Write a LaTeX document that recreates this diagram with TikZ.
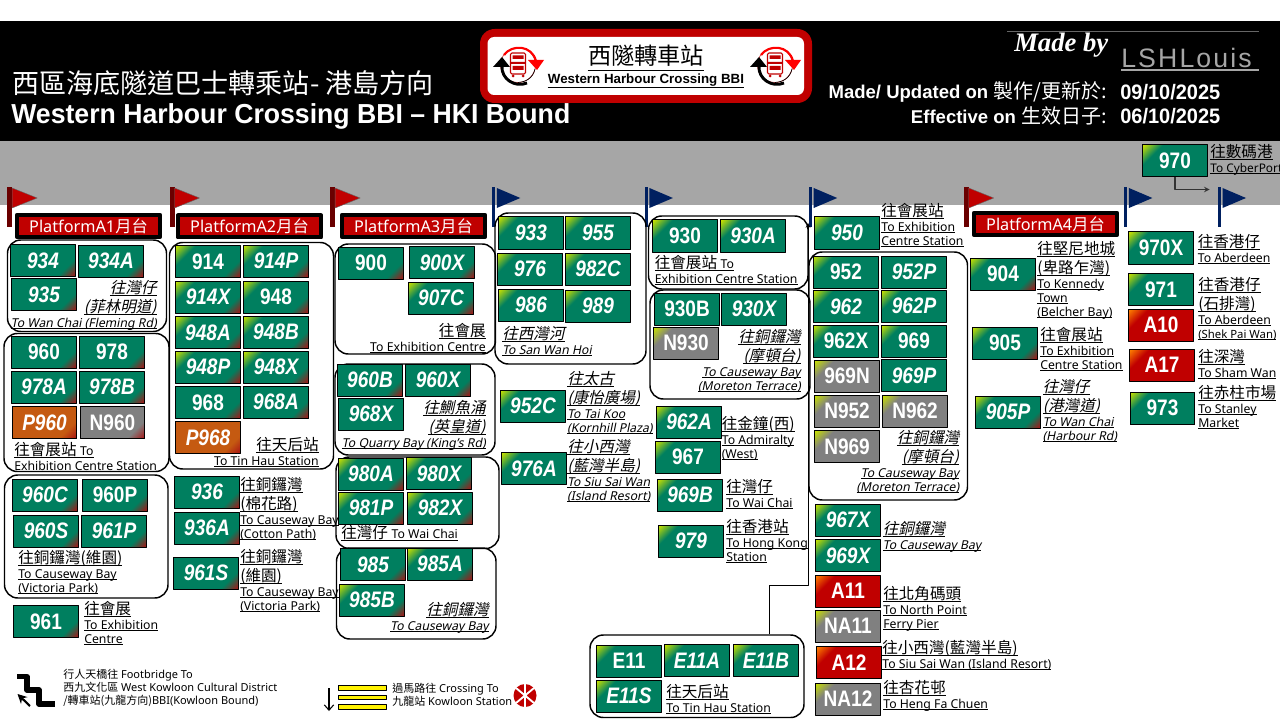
\documentclass[tikz,border=0pt]{standalone}
\usepackage{fontspec}
\usetikzlibrary{fit,arrows.meta}
\setmainfont[AutoFakeSlant=0.2]{Noto Sans}
\setsansfont{Liberation Sans}
\newfontfamily\cjk[AutoFakeSlant=0.22]{Noto Sans CJK TC}
\newfontfamily\madefont{Liberation Serif}
\newfontfamily\authorfont[LetterSpace=8]{Liberation Sans}
\newfontfamily\tilefont[FakeStretch=.85]{Liberation Sans}
\newfontfamily\titlefont[FakeStretch=.97]{Liberation Sans}
\newfontfamily\datefont[FakeStretch=.955]{Liberation Sans}
\definecolor{tgreen}{HTML}{007F5F}
\definecolor{tyellow}{HTML}{C8E000}
\definecolor{tred}{HTML}{A81414}
\definecolor{tgrey}{HTML}{808080}
\definecolor{torange}{HTML}{C55A11}
\definecolor{ptred}{HTML}{C00000}
\definecolor{navy}{HTML}{002060}
\definecolor{band}{HTML}{A6A6A6}
% corner to corner colours of the route tiles
\newcommand{\tileshade}[4]{\pgfdeclarehorizontalshading{#1}{100bp}{color(0bp)=(#2); color(15bp)=(#2); color(29bp)=(#3); color(72bp)=(#3); color(85bp)=(#4); color(100bp)=(#4)}}
\tileshade{tilegr}{tgreen}{tgreen}{tred}
\tileshade{tilegy}{tyellow}{tgreen}{tgreen}
\tileshade{tilegyr}{tyellow}{tgreen}{tred}
\tileshade{tileg}{tgreen}{tgreen}{tgreen}
\tileshade{tileor}{torange}{torange}{tred}
\tileshade{tilenr}{tgrey}{tgrey}{tred}
\tileshade{tileny}{tyellow}{tgrey}{tgrey}
\tileshade{tilery}{orange}{ptred}{ptred}
% one underlined line of a destination, Chinese or English
\newcommand{\zl}[1]{\rule[-3pt]{0pt}{14.25pt}\sbox0{\fontsize{11.7}{0}\selectfont\cjk #1}\rlap{\rule[-1.7pt]{\wd0}{.65pt}}\usebox0}
\newcommand{\el}[1]{\rule[-2.4pt]{0pt}{10.5pt}\sbox0{#1}\rlap{\rule[-1.7pt]{\wd0}{.65pt}}\usebox0}
\newcommand{\en}[1]{{\fontsize{9.2}{0}\selectfont\rmfamily #1}}
\newcommand{\labfont}{\fontsize{9.2}{0}\selectfont\lineskip=0pt\lineskiplimit=0pt}
\tikzset{
  tile/.style={shade,draw=black,line width=.75pt,minimum width=48.5pt,minimum height=24pt,inner sep=0pt,
    text=white,shading angle=-45,font=\fontsize{16.8}{16}\selectfont\tilefont\bfseries},
  tileit/.style={font=\fontsize{16.8}{16}\selectfont\tilefont\bfseries\itshape},
  gr/.style={tile,shading=tilegr}, gy/.style={tile,shading=tilegy}, gyr/.style={tile,shading=tilegyr},
  g0/.style={tile,shading=tileg},
  orr/.style={tile,shading=tileor}, nr/.style={tile,shading=tilenr},
  ny/.style={tile,shading=tileny}, ry/.style={tile,shading=tilery},
  grp/.style={draw=black,line width=1.1pt,rounded corners=10pt,inner sep=0pt},
  lab/.style={anchor=north west,inner sep=0pt,align=left,font=\labfont},
  labit/.style={lab,font=\labfont\itshape},
  labr/.style={anchor=north east,inner sep=0pt,align=right,font=\labfont},
  labrit/.style={labr,font=\labfont\itshape},
  plat/.style={draw=black,line width=3pt,fill=ptred,text=white,minimum width=107.5pt,minimum height=16.5pt,
    inner sep=0pt,font=\fontsize{12.2}{12}\selectfont},
  legend/.style={anchor=north west,inner sep=0pt,align=left,font=\fontsize{8.25}{9.75}\selectfont},
  redflag/.pic={
    \fill[ptred!55!black] (-2.5,0) rectangle (2.5,40);
    \fill[ptred,draw=black!60,line width=.3pt] (2.5,1)--(27.5,11)--(2.5,21)--cycle;},
  blueflag/.pic={
    \fill[navy] (-1.5,0) rectangle (1.5,40);
    \fill[navy] (3,1)--(26.5,11)--(3,21)--cycle;},
  bbi/.pic={
    \draw[ptred!80,line width=.5pt] (0,0) circle (17.5);
    \draw[black,line width=.5pt] (17,4) .. controls (15,13) and (8,17) .. (0,17.5);
    \draw[red,line width=1.6pt] (-14,-10) .. controls (-6,-21) and (14,-20) .. (18,-4);
    \fill[red] (10,-5)--(26,-5)--(19,5)--cycle;
    \draw[black,line width=2.2pt] (9,18) .. controls (-3,23) and (-17,14) .. (-16,1);
    \fill[black] (-25,2)--(-8,2)--(-16,-8)--cycle;
    \draw[ptred,fill=white,line width=.8pt,rounded corners=1pt] (-7.5,-12) rectangle (7.5,9);
    \fill[ptred] (-7.5,-3) rectangle (7.5,-1) (-5.5,-9.5) rectangle (5.5,-6) (-5.5,1) rectangle (5.5,5);
    \fill[ptred] (-5,11) circle (1.5) (5,11) circle (1.5);}
}
\begin{document}
\begin{tikzpicture}[x=.75pt,y=-.75pt,>=stealth,line join=round]
\useasboundingbox (0,0) rectangle (1280,720);
\fill[black] (0,21) rectangle (1280,141);
\fill[band] (0,141) rectangle (1280,205);
% header
\node[anchor=west,inner sep=0pt,text=white,font=\fontsize{20.3}{21}\selectfont\cjk] (titleZh) at (12,83) {西區海底隧道巴士轉乘站- 港島方向};
\node[anchor=west,inner sep=0pt,text=white,font=\fontsize{20.6}{22}\selectfont\titlefont\bfseries] (titleEn) at (11,116) {Western Harbour Crossing BBI – HKI Bound};
\fill[ptred,rounded corners=11pt] (480,29) rectangle (812,103);
\fill[white,rounded corners=5pt] (487.5,37) rectangle (804,95);
\node[inner sep=0pt,font=\fontsize{17.4}{18}\selectfont\cjk] (logoZh) at (646,56) {西隧轉車站};
\node[inner sep=0pt,font=\fontsize{10}{10}\selectfont\sffamily\bfseries] (logoEn) at (646,80) {Western Harbour Crossing BBI};
\draw[line width=.7pt] (logoZh.south west |- 0,70) -- (logoZh.south east |- 0,70);
\draw[line width=.7pt] (logoEn.west |- 0,87) -- (logoEn.east |- 0,87);
\pic at (518,65) {bbi};
\pic at (775,65) {bbi};
\draw[black!60,line width=.5pt] (1007,31) -- (1259,31);
\node[anchor=west,inner sep=0pt,text=white,font=\fontsize{20}{20}\selectfont\madefont\bfseries\itshape] (madeBy) at (1014,45) {Made by};
\node[anchor=west,inner sep=0pt,text=black!35,font=\fontsize{20}{20}\selectfont\authorfont] (author) at (1121,58) {LSHLouis};
\draw[black!35,line width=1.5pt] (author.west |- 0,70) -- (1259,70);
\node[anchor=east,inner sep=0pt,text=white,font=\fontsize{13.9}{14}\selectfont\sffamily\bfseries] (madeLab) at (1107,92) {Made/ Updated on {\fontsize{15}{14}\selectfont\cjk\mdseries 製作/更新於:}};
\node[anchor=east,inner sep=0pt,text=white,font=\fontsize{13.9}{14}\selectfont\sffamily\bfseries] (effLab) at (1107,116) {Effective on {\fontsize{15}{14}\selectfont\cjk\mdseries 生效日子:}};
\node[anchor=west,inner sep=0pt,text=white,font=\fontsize{15.7}{16}\selectfont\datefont\bfseries] (madeDate) at (1120,92) {09/10/2025};
\node[anchor=west,inner sep=0pt,text=white,font=\fontsize{15.7}{16}\selectfont\datefont\bfseries] (effDate) at (1120,116) {06/10/2025};
% flags
\foreach \x in {9.7,172,332.6,966.2} \pic at (\x,187) {redflag};
\foreach \x in {493.8,646.4,810.7,1125.9,1219.5} \pic at (\x,187) {blueflag};
% platforms
\node[plat] (platA1) at (88.5,226) {Platform{}A1{\cjk 月台}};
\node[plat] (platA2) at (249.5,226.5) {Platform{}A2{\cjk 月台}};
\node[plat] (platA3) at (413.5,226) {Platform{}A3{\cjk 月台}};
\node[plat] (platA4) at (1045.5,224) {Platform{}A4{\cjk 月台}};
% groups
\foreach \n/\xa/\ya/\xb/\yb in {A/7.5/240/166.5/331.5,B/4/333.5/169/471.5,C/169.5/242.5/333.5/469,D/4.5/475/168/598,
  E/335/244/495.5/354,F/335/364/495/455,G/495/213/646/364,H/336/457/499/548.5,I/336.5/548/496/639,
  J/590/635/804/717.5,K/648.5/216/808/289,L/650/290/810/399,M/809/252/967.5/500}
  \node[grp,fit={(\xa,\ya)(\xb,\yb)}] (b\n) {};
% routes
\foreach \n/\x/\y/\s in {960/44/352/gr,978/112/352/gr,N960/112.5/422.5/nr,914/208/261.7/gyr,948/276/297/gyr,968/208/402.5/gr,
  960P/115/495/gr,961/46/621.5/gr,900/371/263/gr,967/688/457/gy,930/685/236/gy,930B/687/309/g0,N930/686/343/ny,
  952/846/272/gy,962X/846/341/gy,969/914/341/gy,969N/847/376/ny,N952/847/411/ny,N962/915/411/ny,N969/847/446.5/ny,
  A11/848/591/ry,NA11/848/626/ny,A12/849/662.5/ry,NA12/848/699/ny,904/1003/274/gyr,905/1005/343/gyr,
  970X/1161/248/gy,971/1161/289.5/gy,A10/1161/325/ry,A17/1162/365/ry,973/1162.5/408/gy,970/1175/161/gy,E11/629/661/gy}
  \node[\s] (r\n) at (\x,\y) {\n};
\foreach \n/\x/\y/\s in {934/43/260.5/gr,934A/111/261/gr,935/44/294.5/gr,978A/44/387/gr,978B/112/387/gr,P960/44.5/422.5/orr,
  914P/276/261/gyr,914X/208/297/gyr,948A/208/332.5/gyr,948B/276/332/gyr,948P/208/367/gyr,948X/276/367/gyr,968A/276/402/gr,
  P968/208/437.5/orr,960C/45/495/gr,960S/46/531/gr,961P/114/531/gr,936/207/492/gr,936A/207/528/gr,961S/206/573/gr,
  900X/442/262.5/gr,907C/441/298/gyr,960B/370/380/gr,960X/438/380/gr,968X/371/414/g0,933/531/233/gy,955/598/233/gy,
  976/530/269/gy,982C/598/269/gy,986/531/305/gy,989/598/306/gy,980A/371/474/gyr,980X/439/473.5/gyr,981P/371/508/gyr,
  982X/440/508/gyr,985/373/564.5/gr,985A/440/564/gyr,985B/372/600/gyr,952C/533/406/gy,976A/534/468.5/gy,930A/753/236/gy,
  930X/754/309/g0,962A/689/422/gy,969B/690/495/gy,979/691/541/gy,950/847/233/gy,952P/914/272/g0,962/846/306.5/gy,
  962P/914/306/gy,969P/914/375.5/g0,967X/848/520/gy,969X/848/555.5/gy,E11A/697/660.5/gy,E11B/766/660.5/gy,
  E11S/629/696/gy,905P/1008/412/gyr}
  \node[\s,tileit] (r\n) at (\x,\y) {\n};
% destinations
\node[labrit] (tWanChaiFl) at (157,278) {\zl{往灣仔}\\\zl{(菲林明道)}\\\el{To Wan Chai (Fleming Rd)}};
\node[lab] (tExhibA) at (14,440) {\zl{往會展站 \en{To}}\\\el{Exhibition Centre Station}};
\node[labr] (tTinHauA) at (319,435) {\zl{往天后站}\\\el{To Tin Hau Station}};
\node[lab] (tVicA) at (18,548) {\zl{往銅鑼灣(維園)}\\\el{To Causeway Bay}\\\el{(Victoria Park)}};
\node[lab] (t961) at (84,599) {\zl{往會展}\\\el{To Exhibition}\\\el{Centre}};
\node[lab] (t936) at (240,475) {\zl{往銅鑼灣}\\\zl{(棉花路)}\\\el{To Causeway Bay}\\\el{(Cotton Path)}};
\node[lab] (t961S) at (240,547) {\zl{往銅鑼灣}\\\zl{(維園)}\\\el{To Causeway Bay}\\\el{(Victoria Park)}};
\node[labr] (tExhibE) at (486,321) {\zl{往會展}\\\el{To Exhibition Centre}};
\node[labrit] (tQuarry) at (486,398) {\zl{往鰂魚涌}\\\zl{(英皇道)}\\\el{To Quarry Bay (King's Rd)}};
\node[labit] (tSanWan) at (502,324) {\zl{往西灣河}\\\el{To San Wan Hoi}};
\node[labit] (t952C) at (567,369) {\zl{往太古}\\\zl{(康怡廣場)}\\\el{To Tai Koo}\\\el{(Kornhill Plaza)}};
\node[labit] (t976A) at (567,437) {\zl{往小西灣}\\\zl{(藍灣半島)}\\\el{To Siu Sai Wan}\\\el{(Island Resort)}};
\node[lab] (tWanChaiH) at (341,523) {\zl{往灣仔 \en{To Wai Chai}}};
\node[labrit] (tCausewayI) at (489,600) {\zl{往銅鑼灣}\\\el{To Causeway Bay}};
\node[lab] (tTinHauJ) at (666,682) {\zl{往天后站}\\\el{To Tin Hau Station}};
\node[lab] (t969B) at (726,477) {\zl{往灣仔}\\\el{To Wai Chai}};
\node[lab] (t979) at (726,517) {\zl{往香港站}\\\el{To Hong Kong}\\\el{Station}};
\node[lab] (tExhibK) at (654.5,253) {\zl{往會展站 \en{To}}\\\el{Exhibition Centre Station}};
\node[labrit] (tMoretonL) at (801,327) {\zl{往銅鑼灣}\\\zl{(摩頓台)}\\\el{To Causeway Bay}\\\el{(Moreton Terrace)}};
\node[lab] (t962A) at (721.5,414) {\zl{往金鐘(西)}\\\el{To Admiralty}\\\el{(West)}};
\node[lab] (t950) at (881,201) {\zl{往會展站}\\\el{To Exhibition}\\\el{Centre Station}};
\node[labrit] (tMoretonM) at (959.5,428) {\zl{往銅鑼灣}\\\zl{(摩頓台)}\\\el{To Causeway Bay}\\\el{(Moreton Terrace)}};
\node[labit] (t967X) at (882.5,519) {\zl{往銅鑼灣}\\\el{To Causeway Bay}};
\node[lab] (tA11) at (883,584) {\zl{往北角碼頭}\\\el{To North Point}\\\el{Ferry Pier}};
\node[lab] (tA12) at (882,638) {\zl{往小西灣(藍灣半島)}\\\el{To Siu Sai Wan (Island Resort)}};
\node[lab] (tNA12) at (883,678) {\zl{往杏花邨}\\\el{To Heng Fa Chuen}};
\node[lab] (t904) at (1037,239) {\zl{往堅尼地城}\\\zl{(卑路乍灣)}\\\el{To Kennedy}\\\el{Town}\\\el{(Belcher Bay)}};
\node[lab] (t905) at (1040,325) {\zl{往會展站}\\\el{To Exhibition}\\\el{Centre Station}};
\node[labit] (t905P) at (1042.5,377) {\zl{往灣仔}\\\zl{(港灣道)}\\\el{To Wan Chai}\\\el{(Harbour Rd)}};
\node[lab] (t970X) at (1197.5,232) {\zl{往香港仔}\\\el{To Aberdeen}};
\node[lab] (t971) at (1198,275) {\zl{往香港仔}\\\zl{(石排灣)}\\\el{To Aberdeen}\\\el{\fontsize{8.5}{0}\selectfont(Shek Pai Wan)}};
\node[lab] (tA17) at (1198,347) {\zl{往深灣}\\\el{To Sham Wan}};
\node[lab] (t973) at (1198,383) {\zl{往赤柱市場}\\\el{To Stanley}\\\el{Market}};
\node[lab] (t970) at (1210,142) {\zl{往數碼港}\\\el{\fontsize{8.9}{0}\selectfont To CyberPort}};
% links
\coordinate (cTurn) at (769,585);
\coordinate (cFlag) at (808,223);
\coordinate (c970) at (1209.5,189.5);
\draw[->,line width=.6pt] (bJ.north -| cTurn) -- (cTurn) -- (cFlag |- cTurn) -- (cFlag);
\draw[->,line width=.8pt,black!80] (r970.south) |- (c970);
% legend
\draw[line width=3.8pt,miter limit=10] (17,676.5) -- (27,676.5) -- (27,690) -- (39,690) -- (39,704) -- (55,704);
\draw[-{Stealth[length=7pt,width=7pt]},line width=1.6pt] (30,706) -- (17.5,694);
\node[legend] (tFoot) at (63,668.5) {{\cjk 行人天橋往} Footbridge To\\{\cjk 西九文化區} West Kowloon Cultural District\\{\cjk /轉車站(九龍方向)}BBI(Kowloon Bound)};
\coordinate (cDownA) at (329,688);
\coordinate (cDownB) at (329,711);
\draw[-{Straight Barb[length=4pt,width=7pt]},line width=.8pt] (cDownA) -- (cDownB);
\foreach \y in {685.5,695,704.5} \draw[fill=yellow,line width=.6pt] (338.5,\y) rectangle (386.5,\y+4.6);
\node[legend] (tCross) at (392,683) {{\cjk 過馬路往} Crossing To\\{\cjk 九龍站} Kowloon Station};
\fill[ptred] (525,695.5) circle (11.5);
\draw[white,line width=1.4pt] (525,684) -- (525,707) (516,688) -- (534,703) (534,688) -- (516,703);
\end{tikzpicture}
\end{document}
